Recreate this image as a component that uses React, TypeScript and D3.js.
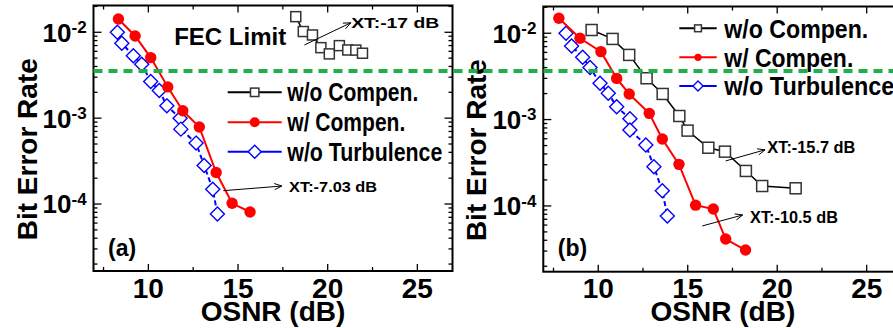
import React from "react";
import * as d3 from "d3";

// ---- values ----
// panel (a)
const osnrA_noComp = [18.22, 18.64, 19.15, 19.62, 20.09, 20.65, 21.12, 21.57, 21.94];
const berA_noComp = [1.52e-2, 1.02e-2, 9.3e-3, 6.62e-3, 5.6e-3, 6.99e-3, 6.22e-3, 6.2e-3, 5.7e-3];
const osnrA_comp = [8.33, 9.26, 10.13, 11.08, 11.92, 12.84, 13.78, 14.67, 15.67];
const berA_comp = [1.43e-2, 9.06e-3, 5.07e-3, 2.31e-3, 1.22e-3, 7.9e-4, 2.33e-4, 1.02e-4, 8.07e-5];
const osnrA_noTurb = [8.27, 8.52, 9.16, 9.63, 10.13, 10.61, 11.03, 11.77, 11.81, 12.66, 13.11, 13.59, 13.85];
const berA_noTurb = [1e-2, 7.45e-3, 5.34e-3, 4.25e-3, 2.67e-3, 2.1e-3, 1.39e-3, 1e-3, 7.45e-4, 5.12e-4, 2.81e-4, 1.49e-4, 7.66e-5];

// panel (b)
const osnrB_noComp = [9.63, 10.8, 11.73, 12.7, 13.6, 14.53, 14.99, 16.15, 17.08, 18.25, 19.16, 21.03];
const berB_noComp = [1.09e-2, 8.59e-3, 5.61e-3, 3.01e-3, 1.98e-3, 1.1e-3, 7.45e-4, 4.72e-4, 4.25e-4, 2.54e-4, 1.7e-4, 1.6e-4];
const osnrB_comp = [7.8, 8.98, 10.15, 11.03, 11.73, 12.85, 13.58, 14.51, 15.44, 16.43, 17.12, 18.23];
const berB_comp = [1.49e-2, 8.75e-3, 6.12e-3, 3.0e-3, 1.98e-3, 1.18e-3, 5.96e-4, 3.03e-4, 1.02e-4, 9.2e-5, 4.13e-5, 3.08e-5];
const osnrB_noTurb = [8.2, 8.51, 9.13, 9.54, 10.1, 10.56, 11.03, 11.77, 11.77, 12.66, 13.11, 13.58, 13.86];
const berB_noTurb = [1e-2, 7.13e-3, 5.28e-3, 4.0e-3, 2.64e-3, 2.02e-3, 1.41e-3, 1.02e-3, 7.58e-4, 5.08e-4, 2.84e-4, 1.5e-4, 7.64e-5];

const fecLimit = 3.55e-3;
const legendLabels = ["w/o Compen.", "w/ Compen.", "w/o Turbulence"];
const xTicks = [10, 15, 20, 25];
const xMinorTicks = [7.5, 12.5, 17.5, 22.5];
const yDecades = [1e-2, 1e-3, 1e-4];
const yDecadeExp = ["-2", "-3", "-4"];

// annotations: [osnr0, ber0, osnr1, ber1, textOsnr, textBer, label]
const notesA: [number, number, number, number, number, number, string][] = [
  [18.7, 7.11e-3, 21.29, 1.29e-2, 21.31, 1.11e-2, "XT:-17 dB"],
  [14.18, 1.43e-4, 17.44, 1.62e-4, 17.85, 1.37e-4, "XT:-7.03 dB"],
];
const notesB: [number, number, number, number, number, number, string][] = [
  [17.12, 3.32e-4, 19.32, 4.46e-4, 19.45, 4.07e-4, "XT:-15.7 dB"],
  [15.81, 5.86e-5, 18.07, 7.85e-5, 18.48, 6.31e-5, "XT:-10.5 dB"],
];

const FONT = "'Liberation Sans', Arial, sans-serif";
const BLUE = "#0000ff";
const RED = "#ff0000";
const DARK = "#333";

type Kind = "square" | "circle" | "diamond";

function Marker({ kind, cx, cy, s }: { kind: Kind; cx: number; cy: number; s: number }) {
  if (kind === "circle") return <circle cx={cx} cy={cy} r={s} fill={RED} />;
  if (kind === "square")
    return (
      <rect x={cx - s} y={cy - s} width={2 * s} height={2 * s} fill="#fff" stroke={DARK} strokeWidth={1.5} />
    );
  return (
    <path
      d={`M${cx},${cy - s}L${cx + s},${cy}L${cx},${cy + s}L${cx - s},${cy}Z`}
      fill="#fff"
      stroke={BLUE}
      strokeWidth={1.4}
    />
  );
}

function Arrow({ x1, y1, x2, y2 }: { x1: number; y1: number; x2: number; y2: number }) {
  const a = Math.atan2(y2 - y1, x2 - x1);
  const h = 8;
  const w = 0.4;
  const p1 = [x2 - h * Math.cos(a - w), y2 - h * Math.sin(a - w)];
  const p2 = [x2 - h * Math.cos(a + w), y2 - h * Math.sin(a + w)];
  return (
    <g stroke="#000" strokeWidth={1} fill="none">
      <line x1={x1} y1={y1} x2={x2} y2={y2} />
      <path d={`M${p1[0]},${p1[1]}L${x2},${y2}L${p2[0]},${p2[1]}`} />
    </g>
  );
}

type PanelProps = {
  left: number;
  right: number;
  top: number;
  bottom: number;
  xDomain: [number, number];
  yDomain: [number, number];
  noComp: [number[], number[]];
  comp: [number[], number[]];
  noTurb: [number[], number[]];
  notes: [number, number, number, number, number, number, string][];
  noteFont: number;
  legend: { x0: number; x1: number; tx: number; rows: number[]; font: number; widths: number[]; sizes: number[] };
  tag: string;
  sqSize: number;
};

function Panel(p: PanelProps) {
  const x = d3.scaleLinear().domain(p.xDomain).range([p.left, p.right]);
  const y = d3.scaleLog().domain(p.yDomain).range([p.bottom, p.top]);
  const line = d3
    .line<[number, number]>()
    .x((d) => x(d[0]))
    .y((d) => y(d[1]));
  const pts = (s: [number[], number[]]) => s[0].map((v, i) => [v, s[1][i]] as [number, number]);
  const minorY = y.ticks().filter((t) => !yDecades.some((d) => Math.abs(d - t) < d * 1e-6));
  const cxMid = (p.left + p.right) / 2;
  const kinds: Kind[] = ["square", "circle", "diamond"];
  const colors = ["#000", RED, BLUE];

  return (
    <g fontFamily={FONT} fontWeight="bold">
      {/* ticks */}
      <g stroke="#000" strokeWidth={1.3}>
        {xTicks.map((t) => (
          <g key={"xt" + t}>
            <line x1={x(t)} x2={x(t)} y1={p.bottom} y2={p.bottom - 7} />
            <line x1={x(t)} x2={x(t)} y1={p.top} y2={p.top + 7} />
          </g>
        ))}
        {xMinorTicks.map((t) => (
          <g key={"xm" + t}>
            <line x1={x(t)} x2={x(t)} y1={p.bottom} y2={p.bottom - 4} />
            <line x1={x(t)} x2={x(t)} y1={p.top} y2={p.top + 4} />
          </g>
        ))}
        {yDecades.map((t) => (
          <g key={"yt" + t}>
            <line x1={p.left} x2={p.left + 8} y1={y(t)} y2={y(t)} />
            <line x1={p.right} x2={p.right - 8} y1={y(t)} y2={y(t)} />
          </g>
        ))}
        {minorY.map((t) => (
          <g key={"ym" + t}>
            <line x1={p.left} x2={p.left + 4} y1={y(t)} y2={y(t)} />
            <line x1={p.right} x2={p.right - 4} y1={y(t)} y2={y(t)} />
          </g>
        ))}
      </g>
      <rect
        x={p.left}
        y={p.top}
        width={p.right - p.left}
        height={p.bottom - p.top}
        fill="none"
        stroke="#000"
        strokeWidth={2}
      />

      {/* tick labels */}
      {xTicks.map((t) => (
        <text key={"xl" + t} x={x(t)} y={297.5} fontSize={28} textAnchor="middle">
          {t}
        </text>
      ))}
      {yDecades.map((t, i) => (
        <g key={"yl" + t}>
          <text x={p.left - 22} y={y(t) + 9.4} fontSize={26} textAnchor="end">
            10
          </text>
          <text x={p.left - 22} y={y(t) + 0.8} fontSize={17}>
            {yDecadeExp[i]}
          </text>
        </g>
      ))}
      <text x={cxMid} y={321} fontSize={28} textAnchor="middle">
        OSNR (dB)
      </text>
      <text
        transform={`translate(${p.left - 57},${(p.top + p.bottom) / 2 + 11}) rotate(-90)`}
        fontSize={28}
        textAnchor="middle"
      >
        Bit Error Rate
      </text>
      <text x={p.left + 14.5} y={256} fontSize={23}>
        {p.tag}
      </text>

      {/* series */}
      <path d={line(pts(p.noComp)) || ""} fill="none" stroke="#000" strokeWidth={1.5} />
      {pts(p.noComp).map((d, i) => (
        <Marker key={"s" + i} kind="square" cx={x(d[0])} cy={y(d[1])} s={p.sqSize} />
      ))}
      <path d={line(pts(p.noTurb)) || ""} fill="none" stroke={BLUE} strokeWidth={2} strokeDasharray="5,3" />
      {pts(p.noTurb).map((d, i) => (
        <Marker key={"d" + i} kind="diamond" cx={x(d[0])} cy={y(d[1])} s={7} />
      ))}
      <path d={line(pts(p.comp)) || ""} fill="none" stroke={RED} strokeWidth={2} />
      {pts(p.comp).map((d, i) => (
        <Marker key={"c" + i} kind="circle" cx={x(d[0])} cy={y(d[1])} s={5.7} />
      ))}

      {/* annotations */}
      {p.notes.map((n, i) => (
        <g key={"n" + i}>
          <Arrow x1={x(n[0])} y1={y(n[1])} x2={x(n[2])} y2={y(n[3])} />
          <text x={x(n[4])} y={y(n[5])} fontSize={p.noteFont} textLength={88} lengthAdjust="spacingAndGlyphs">
            {n[6]}
          </text>
        </g>
      ))}

      {/* legend */}
      {legendLabels.map((lab, i) => {
        const ry = p.legend.rows[i];
        const mx = (p.legend.x0 + p.legend.x1) / 2;
        return (
          <g key={"lg" + i}>
            <line x1={p.legend.x0} x2={p.legend.x1} y1={ry} y2={ry} stroke={colors[i]} strokeWidth={2} />
            <Marker kind={kinds[i]} cx={mx} cy={ry} s={p.legend.sizes[i]} />
            <text
              x={p.legend.tx}
              y={ry + p.legend.font * 0.36}
              fontSize={p.legend.font}
              textLength={p.legend.widths[i]}
              lengthAdjust="spacingAndGlyphs"
            >
              {lab}
            </text>
          </g>
        );
      })}
    </g>
  );
}

export default function App() {
  const xa = d3.scaleLinear().domain([6.94, 26.96]).range([93.5, 452.5]);
  const ya = d3.scaleLog().domain([1.66e-5, 2.05e-2]).range([271, 5.5]);
  return (
    <svg
      width={893}
      height={328}
      viewBox="0 0 893 328"
      style={{ position: "absolute", left: 0, top: 0, background: "#fff" }}
    >
      <rect width={893} height={328} fill="#fff" />
      <Panel
        left={93.5}
        right={452.5}
        top={5.5}
        bottom={271}
        xDomain={[6.94, 26.96]}
        yDomain={[1.66e-5, 2.05e-2]}
        noComp={[osnrA_noComp, berA_noComp]}
        comp={[osnrA_comp, berA_comp]}
        noTurb={[osnrA_noTurb, berA_noTurb]}
        notes={notesA}
        noteFont={15}
        legend={{ x0: 227.7, x1: 281.7, tx: 287.3, rows: [92.3, 122.3, 151.7], font: 25, widths: [131, 118, 155], sizes: [4.2, 5, 6.5] }}
        tag="(a)"
        sqSize={5}
      />
      <text
        x={xa(11.44)}
        y={ya(7.1e-3)}
        fontSize={24}
        fontFamily={FONT}
        fontWeight="bold"
      >
        FEC Limit
      </text>
      <Panel
        left={543.3}
        right={902.5}
        top={6.5}
        bottom={271.7}
        xDomain={[6.93, 27]}
        yDomain={[1.73e-5, 2.04e-2]}
        noComp={[osnrB_noComp, berB_noComp]}
        comp={[osnrB_comp, berB_comp]}
        noTurb={[osnrB_noTurb, berB_noTurb]}
        notes={notesB}
        noteFont={16}
        legend={{ x0: 679.3, x1: 716.7, tx: 724.3, rows: [28.3, 57.3, 86], font: 26, widths: [144, 129, 170], sizes: [3.4, 3.6, 5] }}
        tag="(b)"
        sqSize={5.5}
      />
      {/* FEC limit dashed line across both panels */}
      <line
        x1={93.5}
        x2={893}
        y1={ya(fecLimit)}
        y2={ya(fecLimit)}
        stroke="#1fb04c"
        strokeWidth={4}
        strokeDasharray="9,6"
      />
    </svg>
  );
}
